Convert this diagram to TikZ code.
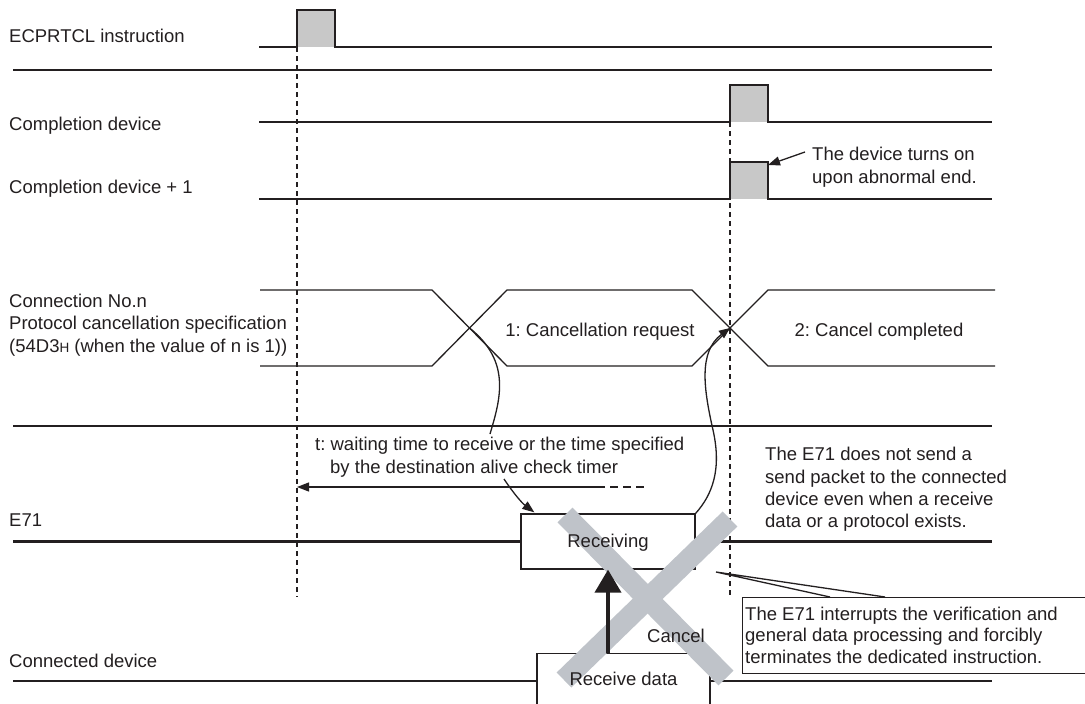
\documentclass[tikz,border=0pt]{standalone}
\usepackage{fontspec}
\setmainfont{Liberation Sans}
\usetikzlibrary{arrows.meta,calc}
\definecolor{ink}{RGB}{35,31,32}
\definecolor{pulsegray}{RGB}{200,200,200}
\definecolor{xgray}{RGB}{191,195,201}
\begin{document}
\frenchspacing
\begin{tikzpicture}[x=1pt,y=-1pt,
  txt/.style={anchor=base west, inner sep=0pt, align=left, text=ink, font=\fontsize{18.5}{22.5}\selectfont},
  ctxt/.style={anchor=base, inner sep=0pt, text=ink, font=\fontsize{18.5}{22.5}\selectfont},
  sig/.style={draw=ink, line width=1.3pt},
  bar/.style={draw=ink, line width=2.8pt},
  guide/.style={draw=ink, line width=1.2pt, dash pattern=on 5pt off 4pt},
  boxn/.style={draw=ink, fill=white, line width=1.3pt, inner sep=0pt},
  tip/.style={-{Triangle[length=12pt,width=9pt]}},
  crossband/.style={draw=xgray, line width=21pt}
]
\fill[white] (0,0) rectangle (1085,704);
\useasboundingbox (0,0) rectangle (1085,704);

% ---- row labels (base = baseline of last line)
\node[txt] (lInstr) at (9,42) {ECPRTCL instruction};
\node[txt] (lComp) at (9,130) {Completion device};
\node[txt] (lCompA) at (9,193) {Completion device + 1};
\node[txt] (lConn) at (9,352) {Connection No.n\\Protocol cancellation specification\\(54D3{\fontsize{13.5}{13.5}\selectfont H} (when the value of n is 1))};
\node[txt] (lE71) at (9,526) {E71};
\node[txt] (lDev) at (9,667) {Connected device};

% ---- pulses
\fill[pulsegray] (297,10) rectangle (335,47);
\draw[sig] (259,47) -- (297,47) -- (297,10) -- (335,10) -- (335,47) -- (992,47);
\fill[pulsegray] (730,85) rectangle (768,122);
\draw[sig] (259,122) -- (730,122) -- (730,85) -- (768,85) -- (768,122) -- (992,122);
\fill[pulsegray] (730,162) rectangle (768,199);
\draw[sig] (259,199) -- (730,199) -- (730,162) -- (768,162) -- (768,199) -- (992,199);

% ---- separators
\draw[bar] (13,70) -- (992,70);
\draw[bar] (13,426) -- (992,426);

% ---- bus
\draw[sig] (260,290) -- (432,290) -- (507,366) -- (692,366) -- (768,290) -- (995,290);
\draw[sig] (260,366) -- (432,366) -- (507,290) -- (692,290) -- (768,366) -- (995,366);
\coordinate (x1) at (469.5,328);
\coordinate (x2) at (730,328);
\node[ctxt] (st1) at (600,336.5) {1: Cancellation request};
\node[ctxt] (st2) at (879,336.5) {2: Cancel completed};

% ---- guides
\draw[guide] (297,47) -- (297,597);
\draw[guide] (730,122) -- (730,595);

% ---- abnormal end note
\node[txt] (abn) at (812,183) {The device turns on\\upon abnormal end.};
\coordinate (abnS) at (805,152);
\coordinate (abnT) at (768,165);
\draw[sig, tip] (abnS) -- (abnT);

% ---- boxes and lines
\node[boxn, minimum width=174pt, minimum height=55pt] (recv) at (608,541.5) {};
\node[boxn, minimum width=173pt, minimum height=72pt, anchor=north] (rdata) at (623.5,653) {};
\coordinate (e71L) at (13,541.5);
\coordinate (e71R) at (992,541.5);
\draw[bar] (e71L) -- (e71L -| recv.west);
\draw[bar] (e71R -| recv.east) -- (e71R);
\coordinate (devL) at (13,681);
\coordinate (devR) at (992,681);
\draw[bar] (devL) -- (devL -| rdata.west);
\draw[bar] (devR -| rdata.east) -- (devR);

% ---- cross
\draw[crossband] (565,515) -- (726,678);
\draw[crossband] (730,519) -- (564,680);

\node[ctxt] (recvtext) at (608,547) {Receiving};
\node[ctxt] (rdtext) at (623.5,685) {Receive data};
\node[txt] (canceltext) at (647,642) {Cancel};
\draw[draw=ink, line width=4pt, -{Triangle[length=23pt,width=26pt]}] (recv.south |- rdata.north) -- (recv.south);

% ---- timing text and arrows
\node[txt] (twait) at (315,473) {t: waiting time to receive or the time specified\\\hspace*{15pt}by the destination alive check timer};
\coordinate (c1end) at (490,434);
\draw[sig] (x1) .. controls (512,362) and (500,400) .. (c1end);
\coordinate (tarrR) at (605,487);
\coordinate (tarrL) at (297,487);
\coordinate (tarrD) at (648,487);
\draw[sig, tip] (tarrR) -- (tarrL);
\draw[sig, dash pattern=on 8pt off 5pt, dash phase=8pt] (tarrR) -- (tarrD);
\coordinate (a3s) at (504,479);
\draw[sig, tip] (a3s) .. controls (514,494) and (522,503) .. ($(recv.north west)+(14,-1)$);
\draw[sig, -{Triangle[length=11pt,width=9pt]}] (recv.north east) .. controls (712,495) and (722,470) .. (713,430) .. controls (704,390) and (698,352) .. (x2);

% ---- notes
\node[txt, font=\fontsize{18.5}{22.2}\selectfont] (e71note) at (765,527.5) {The E71 does not send a\\send packet to the connected\\device even when a receive\\data or a protocol exists.};
\node[draw=ink, line width=1.3pt, fill=white, anchor=north west, minimum width=360pt, minimum height=76pt, inner sep=0pt] (cbox) at (742,597) {};
\node[txt, font=\fontsize{18.5}{21.5}\selectfont] (cbtext) at (745,663) {The E71 interrupts the verification and\\general data processing and forcibly\\terminates the dedicated instruction.};
\coordinate (cpt) at (716,572);
\draw[sig, line join=miter] ($(cbox.north west)+(88,0)$) -- (cpt) -- ($(cbox.north west)+(143,0)$);
\end{tikzpicture}
\end{document}
